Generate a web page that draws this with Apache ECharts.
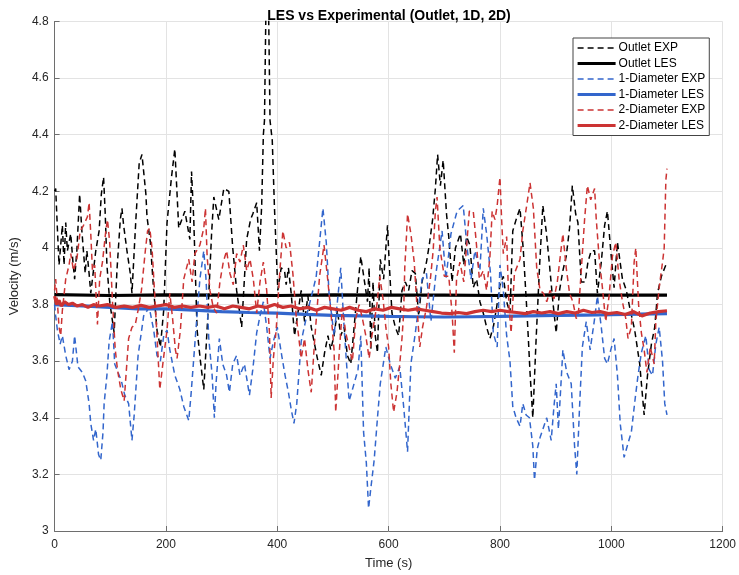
<!DOCTYPE html>
<html><head><meta charset="utf-8">
<script src="https://cdn.jsdelivr.net/npm/echarts@6/dist/echarts.min.js"></script>
<style>html,body{margin:0;padding:0;background:#fff}#c{width:739px;height:575px}</style>
</head><body><div id="c"></div>
<script>
// Tick settings
const xTicks = [0, 200, 400, 600, 800, 1000, 1200];
const yTicks = [3, 3.2, 3.4, 3.6, 3.8, 4, 4.2, 4.4, 4.6, 4.8];
const seriesNames = ['Outlet EXP', 'Outlet LES', '1-Diameter EXP', '1-Diameter LES', '2-Diameter EXP', '2-Diameter LES'];

// Outlet EXP
const outletExpT = [0,2,5,8,14,17,20,23,29,33,36,40,43,45,49,55,58,62,65,68,74,80,84,88,91,94,99,107,112,118,121,124,130,136,139,146,152,157,161,164,166,172,178,184,190,196,202,210,216,223,234,243,246,250,256,262,268,275,282,286,295,304,313,320,327,336,345,352,356,363,368,372,375,377,380,384,387,391,395,401,407,413,416,420,425,431,437,443,449,455,461,466,472,479,485,491,496,502,508,514,520,526,532,538,544,550,556,562,565,568,572,576,580,585,591,598,601,606,612,618,624,630,636,642,648,654,660,668,673,679,684,688,693,698,704,708,714,720,729,735,740,746,752,758,764,770,776,782,788,794,800,806,812,818,823,829,836,842,848,851,854,859,865,871,877,883,889,895,901,907,913,919,925,930,936,940,946,953,958,964,970,975,982,988,993,999,1005,1011,1020,1027,1033,1042,1051,1059,1065,1072,1078,1083,1090,1096,1100];
const outletExpV = [4.2,4.21,4.07,3.94,4.08,3.94,4.09,3.99,4.05,3.95,3.89,3.99,4.11,4.19,4.06,3.91,3.99,3.91,3.84,3.89,3.99,4.06,4.19,4.25,4.12,3.94,3.81,3.7,3.92,4.1,4.14,4.08,3.99,3.91,3.84,4.1,4.3,4.33,4.25,4.19,4.11,4.02,3.85,3.71,3.65,3.78,4.09,4.25,4.35,4.07,4.13,4.03,4.27,4.1,3.71,3.6,3.5,3.75,4.05,4.18,4.1,4.21,4.2,4.0,3.85,3.72,4.03,4.1,4.12,4.16,3.99,4.15,4.4,4.45,4.9,4.9,4.45,4.38,4.14,3.85,3.93,3.92,3.87,3.93,3.84,3.69,3.77,3.85,3.74,3.83,3.72,3.67,3.61,3.55,3.63,3.69,3.64,3.69,3.78,3.69,3.72,3.62,3.59,3.72,3.85,3.97,3.89,3.81,3.93,3.64,3.88,3.69,3.63,3.96,3.89,4.08,3.95,3.77,3.72,3.69,3.85,3.88,3.85,3.92,3.91,3.76,3.88,3.95,4.01,4.1,4.21,4.33,4.22,4.31,4.12,4.04,3.88,4.0,4.05,3.94,4.04,4.01,3.86,3.89,3.81,3.77,3.72,3.68,3.72,3.79,3.87,3.9,3.81,3.77,4.06,4.1,4.14,3.99,3.79,3.68,3.56,3.4,3.68,3.93,4.15,4.06,3.94,3.81,3.7,3.85,3.92,3.97,4.07,4.22,4.12,4.09,3.88,3.88,3.95,3.99,3.99,3.84,3.95,4.08,4.13,3.99,3.86,4.02,3.89,3.85,3.79,3.71,3.59,3.41,3.55,3.66,3.72,3.84,3.9,3.93,3.95];

// Outlet LES
const outletLesT = [0,100,200,300,400,500,600,700,800,900,1000,1100];
const outletLesV = [3.835,3.832,3.834,3.833,3.832,3.834,3.833,3.833,3.832,3.834,3.833,3.833];

// 1-Diameter EXP
const d1ExpT = [0,2,5,10,14,20,26,32,36,42,50,56,62,65,70,74,79,83,87,89,94,98,104,108,114,120,126,133,139,143,150,160,170,178,184,190,196,202,207,216,225,232,241,245,250,255,261,268,272,277,283,287,290,296,302,309,314,320,327,333,341,350,356,363,369,375,381,387,393,400,408,414,420,425,430,435,443,455,464,470,476,482,488,493,502,514,520,529,535,545,550,555,560,564,568,574,580,585,595,603,612,620,627,634,640,648,655,660,668,676,685,696,703,712,723,734,741,748,755,764,770,776,783,788,795,800,806,812,818,823,829,836,841,847,853,859,862,867,872,884,892,897,901,905,913,920,928,934,938,943,948,955,962,970,975,982,988,993,999,1005,1011,1016,1023,1030,1036,1043,1048,1054,1062,1068,1074,1080,1086,1092,1096,1100];
const d1ExpV = [3.8,3.76,3.71,3.66,3.69,3.62,3.57,3.6,3.69,3.58,3.56,3.53,3.45,3.38,3.32,3.36,3.27,3.25,3.35,3.45,3.55,3.67,3.74,3.59,3.56,3.53,3.48,3.45,3.32,3.41,3.62,3.76,3.79,3.71,3.62,3.6,3.69,3.71,3.64,3.55,3.5,3.44,3.39,3.48,3.61,3.74,3.89,3.99,3.89,3.68,3.55,3.4,3.52,3.68,3.59,3.55,3.49,3.59,3.62,3.55,3.59,3.48,3.57,3.7,3.76,3.81,3.72,3.61,3.67,3.72,3.62,3.55,3.49,3.43,3.38,3.45,3.67,3.78,3.85,3.9,4.02,4.14,4.02,3.84,3.69,3.93,3.72,3.46,3.5,3.57,3.69,3.35,3.24,3.08,3.15,3.25,3.4,3.52,3.65,3.59,3.54,3.58,3.44,3.28,3.59,3.7,3.81,3.89,3.91,3.74,3.91,4.06,3.89,4.05,4.13,4.15,4.0,3.89,3.99,3.92,4.14,4.05,3.91,3.7,3.65,3.94,3.85,3.69,3.6,3.44,3.4,3.37,3.45,3.41,3.4,3.3,3.18,3.29,3.33,3.4,3.32,3.44,3.52,3.36,3.64,3.56,3.52,3.3,3.2,3.44,3.65,3.74,3.64,3.75,3.83,3.72,3.61,3.59,3.64,3.68,3.55,3.38,3.26,3.31,3.35,3.47,3.55,3.63,3.69,3.57,3.55,3.66,3.72,3.6,3.45,3.41];

// 1-Diameter LES
const d1LesT = [0,50,100,150,200,250,300,350,400,450,500,550,600,650,700,750,800,850,900,950,1000,1050,1100];
const d1LesV = [3.8,3.795,3.79,3.785,3.785,3.78,3.775,3.772,3.77,3.765,3.762,3.76,3.758,3.757,3.756,3.757,3.758,3.76,3.762,3.763,3.764,3.766,3.768];

// 2-Diameter EXP
const d2ExpT = [0,2,5,8,11,14,20,26,29,34,40,46,52,59,62,65,68,72,77,81,86,92,95,99,104,109,113,119,125,129,133,139,145,150,156,163,167,171,175,180,185,189,195,202,207,212,217,220,226,232,241,247,252,261,268,271,274,279,285,291,297,303,309,315,321,327,333,339,345,351,357,363,369,375,381,386,389,393,398,404,410,416,422,428,434,443,449,455,461,467,476,484,490,496,502,505,511,517,523,529,535,541,547,553,559,565,570,579,584,590,595,600,604,609,615,620,624,627,629,632,634,640,646,652,656,661,668,675,680,684,687,692,700,708,714,718,722,728,735,745,752,757,763,770,776,782,786,791,795,800,803,806,812,816,820,826,836,841,848,854,860,866,872,878,884,890,897,903,913,919,925,931,937,941,946,952,957,963,970,973,978,984,990,996,1002,1008,1014,1020,1026,1030,1036,1041,1044,1049,1054,1059,1064,1070,1077,1080,1086,1092,1095,1098,1100];
const d2ExpV = [3.85,3.89,3.81,3.72,3.69,3.78,3.89,3.94,3.98,3.92,3.96,4.06,4.08,4.11,4.16,4.05,3.92,3.94,3.73,3.89,3.95,4.06,4.1,4.02,3.81,3.64,3.57,3.5,3.46,3.57,3.68,3.72,3.73,3.78,3.85,3.99,4.06,4.07,4.0,3.83,3.65,3.5,3.6,3.71,3.84,3.75,3.64,3.61,3.71,3.89,3.96,3.88,3.98,4.01,4.07,4.14,3.97,3.85,3.79,3.77,3.88,3.95,3.99,3.91,3.87,3.98,3.95,4.01,3.92,3.96,3.89,3.77,3.88,3.95,3.85,3.7,3.47,3.61,3.71,3.9,4.06,4.0,4.02,3.91,3.76,3.61,3.68,3.57,3.49,3.67,3.9,4.01,3.9,3.78,3.64,3.42,3.62,3.79,3.7,3.65,3.6,3.75,3.8,3.75,3.69,3.61,3.69,3.8,3.9,3.82,3.72,3.65,3.52,3.42,3.49,3.59,3.68,3.77,3.93,4.04,4.12,4.05,3.95,3.76,3.65,3.72,3.79,3.89,3.99,4.13,4.18,4.0,3.9,3.9,3.77,3.63,3.89,3.95,3.88,4.13,4.13,4.03,3.89,3.92,3.85,3.97,4.13,4.1,4.15,4.25,4.1,3.98,4.04,3.8,3.7,3.91,3.96,4.06,4.15,4.23,4.14,3.93,3.85,3.84,3.81,3.85,3.82,3.88,4.05,3.93,3.84,3.81,3.75,3.77,3.92,4.1,4.22,4.17,4.21,4.1,3.97,3.86,3.74,3.83,3.97,4.02,3.89,3.81,3.75,3.68,3.72,3.95,4.0,3.8,3.7,3.64,3.56,3.65,3.59,3.74,3.86,3.95,4.0,4.24,4.28];

// 2-Diameter LES
const d2LesT = [0,4,8,12,18,25,32,40,50,60,70,80,95,110,125,140,155,170,185,200,215,230,245,260,275,290,305,320,335,350,365,380,395,410,425,440,455,470,485,500,515,530,545,560,575,590,605,620,635,650,665,680,695,710,725,740,755,770,785,800,815,830,845,860,875,890,905,920,935,950,965,980,995,1010,1025,1040,1055,1070,1085,1100];
const d2LesV = [3.83,3.8,3.815,3.795,3.81,3.8,3.805,3.795,3.8,3.79,3.8,3.795,3.8,3.79,3.795,3.79,3.797,3.79,3.795,3.8,3.79,3.795,3.79,3.795,3.79,3.795,3.785,3.795,3.79,3.785,3.795,3.79,3.8,3.79,3.795,3.785,3.79,3.78,3.79,3.785,3.78,3.79,3.78,3.775,3.785,3.78,3.79,3.785,3.78,3.785,3.78,3.775,3.77,3.768,3.772,3.768,3.775,3.78,3.775,3.78,3.775,3.772,3.768,3.775,3.77,3.775,3.768,3.775,3.77,3.78,3.772,3.775,3.768,3.772,3.765,3.775,3.76,3.77,3.775,3.778];

const zip = (t, v) => t.map((x, i) => [x, v[i]]);
const BLACK = '#000000', BLUE = '#3366cc', RED = '#cc3333';
const COLORS = [BLACK, BLACK, BLUE, BLUE, RED, RED];
const DASH = [6, 4];

function mk(name, t, v, color, exp) {
  return {
    name, type: 'line', data: zip(t, v), showSymbol: false, symbol: 'none',
    clip: true, animation: false,
    lineStyle: exp ? { color, width: 1.5, type: DASH } : { color, width: 3.2 },
    itemStyle: { color }
  };
}

const legendData = seriesNames.map((n, i) => ({
  name: n,
  lineStyle: i % 2 === 0 ? { color: COLORS[i], width: 1.5, type: DASH } : { color: COLORS[i], width: 3.2, type: 'solid' }
}));

const chart = echarts.init(document.getElementById('c'), null, { renderer: 'canvas' });
const FONT = 'Liberation Sans, Arial, Helvetica, sans-serif';
chart.setOption({
  animation: false,
  backgroundColor: '#ffffff',
  title: {
    text: 'LES vs Experimental (Outlet, 1D, 2D)', left: 384, top: 4, textAlign: 'center',
    textStyle: { fontFamily: FONT, fontSize: 14, fontWeight: 'bold', color: '#000' }
  },
  legend: {
    orient: 'vertical', left: 573, top: 38, data: legendData,
    itemWidth: 38, itemHeight: 12, itemGap: 3.5,
    padding: [4, 4, 4, 3], backgroundColor: '#fff', borderColor: '#444', borderWidth: 1,
    itemStyle: { opacity: 0 },
    textStyle: { fontFamily: FONT, fontSize: 12, color: '#000', padding: [0, 0, 0, -2] }
  },
  grid: { left: 53, right: 16, top: 21.5, bottom: 43.5, containLabel: false },
  xAxis: {
    type: 'value', min: 0, max: 1200, interval: 200,
    name: 'Time (s)', nameLocation: 'middle', nameGap: 26,
    nameTextStyle: { fontFamily: FONT, fontSize: 13, color: '#262626' },
    axisLine: { show: true, onZero: false, lineStyle: { color: '#6e6e6e', width: 1 } },
    axisTick: { show: true, inside: true, length: 5, lineStyle: { color: '#6e6e6e' } },
    axisLabel: { fontFamily: FONT, fontSize: 12, color: '#262626', margin: 8,
      formatter: v => xTicks.includes(v) ? String(v) : '' },
    splitLine: { show: true, lineStyle: { color: '#e3e3e3', width: 1 } }
  },
  yAxis: {
    type: 'value', min: 3, max: 4.8, interval: 0.2,
    name: 'Velocity (m/s)', nameLocation: 'middle', nameGap: 30, nameRotate: 90,
    nameTextStyle: { fontFamily: FONT, fontSize: 13, color: '#262626' },
    axisLine: { show: true, onZero: false, lineStyle: { color: '#6e6e6e', width: 1 } },
    axisTick: { show: true, inside: true, length: 5, lineStyle: { color: '#6e6e6e' } },
    axisLabel: { fontFamily: FONT, fontSize: 12, color: '#262626', margin: 6,
      formatter: v => { const r = Math.round(v * 10) / 10; return yTicks.some(t => Math.abs(t - r) < 1e-6) ? String(r) : ''; } },
    splitLine: { show: true, lineStyle: { color: '#e3e3e3', width: 1 } }
  },
  series: [
    mk(seriesNames[0], outletExpT, outletExpV, BLACK, true),
    mk(seriesNames[1], outletLesT, outletLesV, BLACK, false),
    mk(seriesNames[2], d1ExpT, d1ExpV, BLUE, true),
    mk(seriesNames[3], d1LesT, d1LesV, BLUE, false),
    mk(seriesNames[4], d2ExpT, d2ExpV, RED, true),
    mk(seriesNames[5], d2LesT, d2LesV, RED, false)
  ]
});
</script></body></html>
